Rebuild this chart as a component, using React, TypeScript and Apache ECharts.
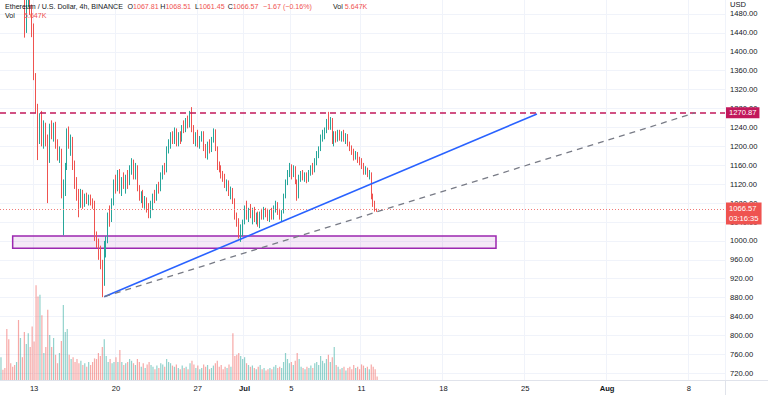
import React, { useEffect, useRef } from 'react';
import * as echarts from 'echarts';

// ---- axis / time slots (4h candles) ----
const SLOT_COUNT = 372;
const START_UTC = Date.UTC(2022, 5, 10, 4);
const tickDays = ['2022-06-13', '2022-06-20', '2022-06-27', '2022-07-01', '2022-07-05', '2022-07-11', '2022-07-18', '2022-07-25', '2022-08-01', '2022-08-08'];
const tickLabels = ['13', '20', '27', 'Jul', '5', '11', '18', '25', 'Aug', '8'];
const boldLabels = ['Jul', 'Aug'];

// ---- price data (ETH/USD 4h) ----
const opens = [1770,1790,1770,1750,1670,1665,1660,1630,1610,1615,1540,1570,1530,1448,1505,1515,1488,1452,1350,1278,1215,1255,1210,1245,1208,1175,1240,1225,1245,1200,1180,1190,1100,1120,1155,1230,1205,1215,1160,1118,1095,1075,1100,1080,1095,1085,1092,1082,1075,1010,995,975,955,915,990,1005,1050,1045,1085,1125,1110,1140,1108,1128,1118,1132,1125,1150,1162,1140,1155,1110,1092,1100,1078,1088,1068,1055,1078,1095,1088,1115,1108,1140,1155,1148,1195,1210,1225,1212,1232,1208,1225,1215,1240,1235,1255,1245,1268,1235,1212,1222,1205,1218,1228,1195,1180,1205,1192,1215,1232,1195,1158,1150,1140,1135,1118,1122,1100,1108,1085,1052,1038,1015,1028,1040,1068,1052,1065,1055,1062,1048,1055,1040,1058,1050,1065,1055,1048,1062,1050,1072,1080,1060,1050,1062,1095,1125,1145,1155,1140,1152,1125,1095,1135,1142,1132,1140,1128,1145,1155,1148,1170,1185,1195,1220,1228,1235,1252,1240,1255,1212,1225,1215,1228,1218,1228,1215,1222,1205,1195,1188,1178,1185,1170,1165,1158,1145,1152,1140,1142,1095,1080,1067.81];
const highs = [1800,1795,1780,1755,1690,1680,1665,1640,1625,1620,1580,1575,1535,1515,1530,1520,1500,1460,1355,1290,1270,1275,1255,1250,1225,1248,1255,1250,1252,1215,1200,1195,1130,1165,1238,1242,1225,1220,1170,1135,1110,1110,1108,1100,1102,1098,1098,1090,1085,1020,1005,990,960,1000,1010,1060,1075,1090,1130,1140,1150,1152,1135,1145,1140,1150,1160,1175,1172,1165,1160,1118,1105,1108,1095,1092,1080,1085,1100,1108,1120,1125,1145,1160,1165,1200,1215,1230,1232,1240,1238,1230,1232,1245,1255,1260,1265,1275,1283,1245,1230,1235,1222,1232,1232,1205,1210,1215,1220,1238,1236,1200,1168,1160,1148,1142,1130,1128,1115,1112,1090,1060,1048,1035,1045,1075,1085,1070,1078,1070,1072,1060,1062,1062,1068,1072,1070,1068,1066,1070,1075,1085,1082,1068,1065,1100,1130,1150,1165,1162,1160,1158,1130,1140,1148,1150,1145,1145,1150,1160,1165,1175,1190,1200,1225,1235,1240,1258,1273,1262,1260,1232,1232,1235,1235,1232,1235,1228,1226,1210,1202,1195,1190,1188,1178,1175,1165,1158,1155,1150,1145,1100,1085,1068.51];
const lows = [1765,1760,1740,1660,1650,1650,1620,1600,1590,1530,1530,1520,1430,1440,1495,1478,1431,1340,1270,1171,1205,1200,1195,1200,1080,1165,1215,1210,1195,1170,1165,1090,1012,1095,1150,1195,1180,1150,1110,1085,1050,1070,1068,1072,1078,1075,1075,1068,1000,985,960,940,881,905,965,995,1030,1040,1075,1100,1105,1100,1095,1110,1100,1110,1118,1140,1130,1130,1105,1085,1080,1070,1068,1060,1048,1048,1065,1080,1085,1100,1105,1130,1140,1145,1185,1195,1205,1205,1200,1200,1205,1210,1228,1230,1238,1240,1230,1205,1200,1198,1195,1210,1190,1175,1172,1185,1188,1208,1190,1150,1145,1132,1125,1112,1105,1095,1088,1078,1045,1030,1005,998,1010,1035,1045,1040,1048,1035,1040,1035,1030,1027,1045,1045,1050,1042,1040,1045,1045,1060,1055,1045,1042,1058,1090,1118,1135,1130,1135,1120,1085,1090,1125,1128,1125,1122,1125,1138,1140,1145,1160,1175,1190,1210,1215,1228,1235,1235,1205,1200,1208,1210,1212,1210,1210,1205,1200,1190,1182,1170,1172,1165,1160,1152,1140,1140,1135,1130,1088,1072,1062,1061.45];
const closes = [1790,1770,1750,1670,1665,1660,1630,1610,1615,1540,1570,1530,1448,1505,1515,1488,1452,1350,1278,1215,1255,1210,1245,1208,1175,1240,1225,1245,1200,1180,1190,1100,1120,1155,1230,1205,1215,1160,1118,1095,1075,1100,1080,1095,1085,1092,1082,1075,1010,995,975,955,915,990,1005,1050,1045,1085,1125,1110,1140,1108,1128,1118,1132,1125,1150,1162,1140,1155,1110,1092,1100,1078,1088,1068,1055,1078,1095,1088,1115,1108,1140,1155,1148,1195,1210,1225,1212,1232,1208,1225,1215,1240,1235,1255,1245,1268,1235,1212,1222,1205,1218,1228,1195,1180,1205,1192,1215,1232,1195,1158,1150,1140,1135,1118,1122,1100,1108,1085,1052,1038,1015,1028,1040,1068,1052,1065,1055,1062,1048,1055,1040,1058,1050,1065,1055,1048,1062,1050,1072,1080,1060,1050,1062,1095,1125,1145,1155,1140,1152,1125,1095,1135,1142,1132,1140,1128,1145,1155,1148,1170,1185,1195,1220,1228,1235,1252,1240,1255,1212,1225,1215,1228,1218,1228,1215,1222,1205,1195,1188,1178,1185,1170,1165,1158,1145,1152,1140,1142,1095,1080,1068.24,1066.57];
const volumes = [38,17,20,85,68,28,22,25,30,100,70,38,80,60,78,55,89,64,158,139,142,108,45,55,117,75,55,70,42,28,45,65,125,80,85,42,35,38,30,35,28,32,25,28,22,30,25,30,36,35,45,40,55,68,40,30,35,28,30,38,30,50,30,25,28,30,35,32,28,25,35,30,22,28,20,26,30,25,22,18,24,20,28,26,22,35,30,28,24,22,26,20,18,24,20,22,18,28,32,26,20,24,18,20,26,22,25,18,20,24,28,32,22,25,18,22,20,26,22,78,40,42,45,40,35,38,28,25,22,24,20,18,22,25,18,20,16,18,20,18,22,25,20,22,20,30,45,35,28,30,25,32,45,35,22,20,18,22,20,24,20,28,30,25,40,32,28,35,42,30,38,55,25,22,18,20,22,16,20,22,18,25,20,22,18,26,24,20,22,18,26,22,18,5.647];

// ---- drawings ----
const resistance = 1270.87;
const lastCountdown = '03:16:35';
const zoneTop = 1010.4;
const zoneBottom = 984.4;
const zoneStartSlot = 6;
const zoneEndSlot = 254;
const trendStart = { slot: 53, price: 882 };
const blueEnd = { slot: 275, price: 1268.5 };
const grayEnd = { slot: 356, price: 1270.6 };

const UP = '#26a69a';
const DOWN = '#ef5350';
const UP_VOL = 'rgba(38,166,154,0.5)';
const DOWN_VOL = 'rgba(239,83,80,0.5)';
const TEXT = '#131722';
const FONT = '"Liberation Sans", Arial, sans-serif';
const GRID_LINE = '#f0f3fa';

function pad(n: number) { return String(n).padStart(2, '0'); }

export default function App() {
  const ref = useRef<HTMLDivElement>(null);
  useEffect(() => {
    if (!ref.current) return;
    const chart = echarts.init(ref.current, undefined, { renderer: 'svg' });

    const categories: string[] = [];
    for (let i = 0; i < SLOT_COUNT; i++) {
      const d = new Date(START_UTC + i * 4 * 3600 * 1000);
      categories.push(`${d.getUTCFullYear()}-${pad(d.getUTCMonth() + 1)}-${pad(d.getUTCDate())} ${pad(d.getUTCHours())}:00`);
    }
    const tickMap: Record<string, string> = {};
    tickDays.forEach((d, i) => { tickMap[d + ' 00:00'] = tickLabels[i]; });
    const isTick = (idx: number) => tickMap[categories[idx]] !== undefined;

    const candleData = opens.map((o, i) => [o, closes[i], lows[i], highs[i]]);
    const volData = volumes.map((v, i) => ({
      value: v,
      itemStyle: { color: closes[i] >= opens[i] ? UP_VOL : DOWN_VOL },
    }));

    const n = closes.length;
    const lastPrice = closes[n - 1];
    const change = closes[n - 1] - closes[n - 2];
    const changePct = (change / closes[n - 2]) * 100;
    const signed = (x: number) => (x < 0 ? '\u2212' : '+') + Math.abs(x).toFixed(2);

    const option: any = {
      animation: false,
      backgroundColor: '#ffffff',
      grid: [
        { left: 0, width: 725, top: -4.91, height: 397.1, outerBoundsMode: 'none' },
        { left: 0, width: 725, top: 0, height: 380, outerBoundsMode: 'none' },
      ],
      xAxis: [
        {
          type: 'category', gridIndex: 0, data: categories, boundaryGap: true,
          axisLine: { show: false }, axisTick: { show: false }, axisLabel: { show: false },
          splitLine: { show: false },
        },
        {
          type: 'category', gridIndex: 1, data: categories, boundaryGap: true,
          axisLine: { show: false }, axisTick: { show: false },
          axisLabel: {
            interval: (idx: number) => isTick(idx),
            formatter: (v: string) => {
              const t = tickMap[v] || '';
              return boldLabels.includes(t) ? `{b|${t}}` : `{n|${t}}`;
            },
            margin: 4,
            rich: {
              n: { color: TEXT, fontSize: 7.6, fontFamily: FONT },
              b: { color: TEXT, fontSize: 7.6, fontFamily: FONT, fontWeight: 'bold' },
            },
          },
          splitLine: { show: true, interval: (idx: number) => isTick(idx), lineStyle: { color: GRID_LINE, width: 1 } },
        },
      ],
      yAxis: [
        {
          type: 'value', gridIndex: 0, position: 'right', min: 680, max: 1520, interval: 40,
          axisLine: { show: false }, axisTick: { show: false },
          axisLabel: {
            showMinLabel: false, showMaxLabel: false, margin: 5,
            formatter: (v: number) => v.toFixed(2), color: TEXT, fontSize: 7.6, fontFamily: FONT,
          },
          splitLine: { show: true, showMinLine: false, showMaxLine: false, lineStyle: { color: GRID_LINE, width: 1 } },
        },
        { type: 'value', gridIndex: 1, min: 0, max: 633.3, show: false, splitLine: { show: false } },
      ],
      series: [
        {
          type: 'bar', xAxisIndex: 1, yAxisIndex: 1, data: volData, barWidth: '62%', silent: true, z: 1,
        },
        {
          type: 'candlestick', xAxisIndex: 0, yAxisIndex: 0, data: candleData, barWidth: '62%', z: 3,
          itemStyle: { color: UP, color0: DOWN, borderColor: UP, borderColor0: DOWN, borderWidth: 1 },
          markArea: {
            silent: true,
            itemStyle: { color: 'rgba(156,39,176,0.1)', borderColor: '#9c27b0', borderWidth: 1.5 },
            data: [[{ coord: [zoneStartSlot, zoneTop] }, { coord: [zoneEndSlot, zoneBottom] }]],
          },
          markLine: {
            silent: true, symbol: ['none', 'none'], precision: 2,
            label: { show: false },
            data: [
              {
                yAxis: resistance,
                lineStyle: { color: '#c2185b', type: [6, 4], width: 1.5 },
                label: {
                  show: true, position: 'end', distance: 1, formatter: resistance.toFixed(2),
                  backgroundColor: '#c2185b', color: '#ffffff', padding: [2, 3, 1, 3],
                  fontSize: 7.6, fontFamily: FONT,
                },
              },
              {
                yAxis: lastPrice,
                lineStyle: { color: '#f07a78', type: [1, 2], width: 1 },
                label: {
                  show: true, position: 'end', distance: 1, offset: [0, 4],
                  formatter: `${lastPrice.toFixed(2)}\n${lastCountdown}`,
                  backgroundColor: '#ef5350', color: '#ffffff', padding: [2, 3, 1, 3], lineHeight: 9.5,
                  fontSize: 7.6, fontFamily: FONT,
                },
              },
              [
                { coord: [trendStart.slot, trendStart.price] },
                { coord: [blueEnd.slot, blueEnd.price], lineStyle: { color: '#2962ff', width: 1.6, type: 'solid' } },
              ],
              [
                { coord: [trendStart.slot, trendStart.price] },
                { coord: [grayEnd.slot, grayEnd.price], lineStyle: { color: '#787b86', width: 1.3, type: [6, 5] } },
              ],
            ],
          },
        },
      ],
      graphic: [
        { type: 'line', shape: { x1: 725.5, y1: 0, x2: 725.5, y2: 395 }, style: { stroke: '#e0e3eb', lineWidth: 1 }, z: 0 },
        { type: 'line', shape: { x1: 0, y1: 380.5, x2: 768, y2: 380.5 }, style: { stroke: '#e0e3eb', lineWidth: 1 }, z: 0 },
        { type: 'text', x: 730, y: 4.5, style: { text: 'USD', fill: TEXT, fontSize: 7.6, fontFamily: FONT, verticalAlign: 'middle' }, z: 10 },
        { type: 'text', x: 5, y: 7, style: { text: 'Ethereum / U.S. Dollar, 4h, BINANCE', fill: TEXT, fontSize: 7.1, fontFamily: FONT, verticalAlign: 'middle' }, z: 10 },
        ...[
          ['O', opens[n - 1], 127.5],
          ['H', highs[n - 1], 160.3],
          ['L', lows[n - 1], 195],
          ['C', closes[n - 1], 227.7],
        ].map(([k, v, x]) => ({
          type: 'text', x: x as number, y: 7, z: 10,
          style: {
            text: `{k|${k}}{v|${(v as number).toFixed(2)}}`,
            fontSize: 7.1, fontFamily: FONT, verticalAlign: 'middle',
            rich: { k: { fill: TEXT, fontSize: 7.1, fontFamily: FONT }, v: { fill: DOWN, fontSize: 7.1, fontFamily: FONT } },
          },
        })),
        {
          type: 'text', x: 263, y: 7, z: 10,
          style: {
            text: `${signed(change)} (${signed(changePct)}%)`,
            fill: DOWN, fontSize: 7.1, fontFamily: FONT, verticalAlign: 'middle',
          },
        },
        {
          type: 'text', x: 333, y: 7, z: 10,
          style: {
            text: `{k|Vol} {v|${volumes[n - 1].toFixed(3)}K}`, fontSize: 7.1, fontFamily: FONT, verticalAlign: 'middle',
            rich: { k: { fill: TEXT, fontSize: 7.1, fontFamily: FONT }, v: { fill: DOWN, fontSize: 7.1, fontFamily: FONT } },
          },
        },
        {
          type: 'text', x: 5, y: 15.5, z: 10,
          style: { text: 'Vol', fill: TEXT, fontSize: 7.1, fontFamily: FONT, verticalAlign: 'middle' },
        },
        {
          type: 'text', x: 24, y: 15.5, z: 10,
          style: { text: `${volumes[n - 1].toFixed(3)}K`, fill: DOWN, fontSize: 7.1, fontFamily: FONT, verticalAlign: 'middle' },
        },
      ],
    };
    chart.setOption(option);
    return () => chart.dispose();
  }, []);
  return <div ref={ref} style={{ position: 'fixed', left: 0, top: 0, width: 768, height: 395, background: '#fff' }} />;
}
